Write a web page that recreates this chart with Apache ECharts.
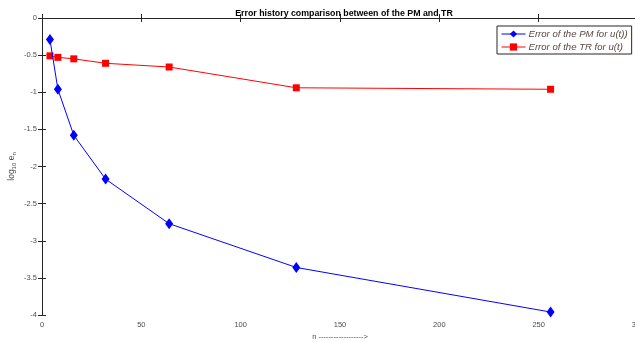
<!DOCTYPE html>
<html>
<head>
<meta charset="utf-8">
<script src="https://cdn.jsdelivr.net/npm/echarts@6/dist/echarts.min.js"></script>
<style>
  html, body {margin: 0; padding: 0; background: #fff;}
  #chart {width: 635px; height: 342px;}
</style>
</head>
<body>
<div id="chart"></div>
<script>
// step counts n
const nValues = [4, 8, 16, 32, 64, 128, 256];
// log10 of the error
const pmErrors = [-0.29, -0.96, -1.58, -2.17, -2.77, -3.36, -3.96];
const trErrors = [-0.51, -0.53, -0.55, -0.61, -0.66, -0.94, -0.96];
const xTicks = [0, 50, 100, 150, 200, 250, 300];
const yTicks = [-4, -3.5, -3, -2.5, -2, -1.5, -1, -0.5, 0];

const axisColor = '#262626';
const labelColor = '#4d4d4d';

var myChart = echarts.init(document.getElementById('chart'));

const pair = (ys) => nValues.map((n, i) => [n, ys[i]]);

myChart.setOption({
  animation: false,
  textStyle: {fontFamily: 'Liberation Sans, Arial, sans-serif'},
  title: {
    text: 'Error history comparison between of the PM and TR',
    left: 339,
    textAlign: 'center',
    top: 4,
    textStyle: {fontSize: 8.8, fontWeight: 'bold', color: '#000'}
  },
  legend: {
    left: 497,
    top: 26,
    orient: 'vertical',
    itemWidth: 24,
    itemHeight: 9,
    itemGap: 3,
    padding: [3, 4, 2, 4],
    backgroundColor: '#fff',
    borderColor: axisColor,
    borderWidth: 1,
    lineStyle: {width: 1},
    textStyle: {fontSize: 9.6, fontStyle: 'italic', color: '#5a4a40', padding: [0, 0, 0, -2]},
    data: ['Error of the PM for u(t))', 'Error of the TR for u(t)']
  },
  grid: {left: 42, top: 18, width: 596, height: 297, outerBoundsMode: 'none', containLabel: false},
  xAxis: [{
    type: 'value',
    min: 0, max: 300, interval: 50,
    name: 'n ------------------>',
    nameLocation: 'middle',
    nameGap: 18,
    nameMoveOverlap: false,
    nameTextStyle: {fontSize: 7.5, color: labelColor},
    axisLine: {lineStyle: {color: axisColor, width: 1}},
    axisTick: {inside: true, length: 4, lineStyle: {color: axisColor}},
    axisLabel: {fontSize: 7.5, color: labelColor, margin: 6,
      formatter: (v) => xTicks.includes(v) ? String(v) : ''},
    splitLine: {show: false}
  }, {
    type: 'value',
    position: 'top',
    min: 0, max: 300, interval: 50,
    axisLine: {show: true, lineStyle: {color: axisColor, width: 1}},
    axisTick: {show: true, inside: true, length: 4, lineStyle: {color: axisColor}},
    axisLabel: {show: false},
    splitLine: {show: false}
  }],
  yAxis: [{
    type: 'value',
    min: -4, max: 0, interval: 0.5,
    name: '{n|log}{s|10}{n| e}{s|n}',
    nameLocation: 'middle',
    nameRotate: 90,
    nameGap: 25,
    nameMoveOverlap: false,
    nameTextStyle: {
      color: labelColor,
      rich: {
        n: {fontSize: 8.5, color: labelColor},
        s: {fontSize: 6, color: labelColor, verticalAlign: 'bottom', padding: [4, 0, 0, 0]}
      }
    },
    axisLine: {show: true, lineStyle: {color: axisColor, width: 1}},
    axisTick: {show: true, inside: true, length: 4, lineStyle: {color: axisColor}},
    axisLabel: {fontSize: 7.5, color: labelColor, margin: 5,
      formatter: (v) => yTicks.includes(v) ? String(v) : ''},
    splitLine: {show: false}
  }, {
    type: 'value',
    position: 'right',
    min: -4, max: 0, interval: 0.5,
    axisLine: {show: true, lineStyle: {color: axisColor, width: 1}},
    axisTick: {show: true, inside: true, length: 4, lineStyle: {color: axisColor}},
    axisLabel: {show: false},
    splitLine: {show: false}
  }],
  series: [{
    name: 'Error of the PM for u(t))',
    type: 'line',
    data: pair(pmErrors),
    symbol: 'diamond',
    symbolSize: [8, 11],
    lineStyle: {color: '#0000ff', width: 1},
    itemStyle: {color: '#0000ff'},
    z: 3
  }, {
    name: 'Error of the TR for u(t)',
    type: 'line',
    data: pair(trErrors),
    symbol: 'rect',
    symbolSize: 7,
    lineStyle: {color: '#ff0000', width: 1},
    itemStyle: {color: '#ff0000'},
    z: 2
  }]
});
</script>
</body>
</html>
